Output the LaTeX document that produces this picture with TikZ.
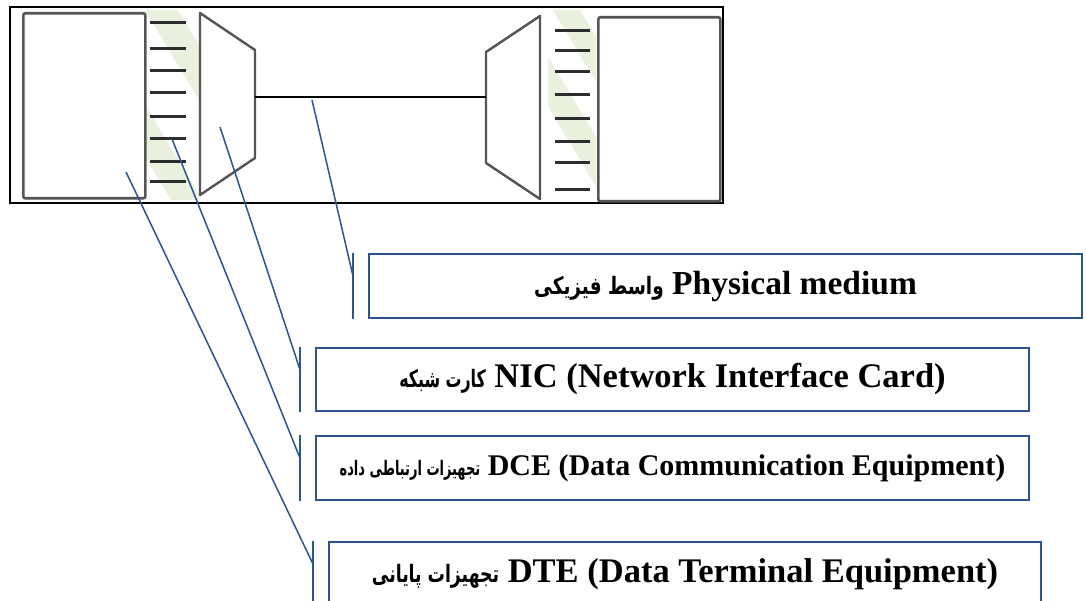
\documentclass[tikz,border=0pt]{standalone}
\usepackage{fontspec}
\usepackage{graphicx}
\setmainfont{Liberation Serif}
\newfontfamily\fa[Script=Arabic]{DejaVu Sans}
\TeXXeTstate=1
\usetikzlibrary{calc}
\definecolor{calblue}{RGB}{44,84,146}
\definecolor{figgray}{RGB}{85,85,85}
\definecolor{pingray}{RGB}{45,45,45}
\definecolor{wmgreen}{RGB}{234,241,222}
\tikzset{
  calbox/.style={draw=calblue, line width=2pt, anchor=north west, inner sep=0pt},
  calline/.style={draw=calblue, line width=1.5pt},
  calbar/.style={draw=calblue, line width=2pt},
  figbox/.style={draw=figgray, line width=2.6pt, rounded corners=2pt},
  pin/.style={draw=pingray, line width=3pt},
}
\begin{document}
\begin{tikzpicture}[x=1pt,y=-1pt]
\clip (0,0) rectangle (1086,601);
\fill[white] (0,0) rectangle (1086,601);
% watermark stripes in the gaps
\begin{scope}
\clip (146,10) rectangle (199,200);
\fill[wmgreen] (145,10) -- (178,10) -- (178+120,210) -- (145+120,210) -- cycle;
\fill[wmgreen] (57,10) -- (88,10) -- (88+120,210) -- (57+120,210) -- cycle;
\end{scope}
\begin{scope}
\clip (548,10) rectangle (596,200);
\fill[wmgreen] (553,10) -- (580,10) -- (580+120,210) -- (553+120,210) -- cycle;
\fill[wmgreen] (490,10) -- (520,10) -- (520+120,210) -- (490+120,210) -- cycle;
\end{scope}
% frame
\draw[line width=2pt] (10,7) rectangle (723,203);
% left terminal
\node[figbox, minimum width=122pt, minimum height=185pt, anchor=north west] (dteL) at (22,12) {};
\foreach \y in {23,49,71,93,117,139,162,182} \draw[pin] (150,\y) -- (186,\y);
\draw[figgray, line width=2.4pt, line join=round] (200,13) -- (255,50) -- (255,158) -- (200,195) -- cycle;
\coordinate (nicL) at (255,97);
% right terminal
\draw[figgray, line width=2.4pt, line join=round] (540,16) -- (486,52) -- (486,163) -- (540,199) -- cycle;
\coordinate (nicR) at (486,97);
\foreach \y in {31,51,72,95,119,142,163,190} \draw[pin] (555,\y) -- (590,\y);
\node[figbox, minimum width=122pt, minimum height=184pt, anchor=north west] (dteR) at (597,16) {};
% medium
\draw[line width=1.6pt] (nicL) -- (nicR);
% callout anchor points
\coordinate (pPhys) at (312,100);
\coordinate (pNic) at (220,127);
\coordinate (pDce) at (172,139);
\coordinate (pDte) at (126,172);
% callout boxes
\node[calbox, minimum width=713pt, minimum height=64pt] (phys) at (368,253)
  {\scalebox{0.77}[1]{\fa\fontsize{24}{24}\selectfont\bfseries\beginR واسط فیزیکی\endR}\fontsize{33.5}{36}\selectfont\bfseries\ Physical medium};
\node[calbox, minimum width=713pt, minimum height=63pt] (nic) at (315,347)
  {\scalebox{0.66}[1]{\fa\fontsize{24}{24}\selectfont\bfseries\beginR کارت شبکه\endR}\fontsize{34.5}{37}\selectfont\bfseries\ NIC (Network Interface Card)};
\node[calbox, minimum width=713pt, minimum height=64pt] (dce) at (315,435)
  {\scalebox{0.65}[1]{\fa\fontsize{20}{20}\selectfont\bfseries\beginR تجهیزات ارتباطی داده\endR}\fontsize{30}{33}\selectfont\bfseries\ DCE (Data Communication Equipment)};
\node[calbox, minimum width=712pt, minimum height=64pt] (dte) at (328,541)
  {\scalebox{0.72}[1]{\fa\fontsize{24}{24}\selectfont\bfseries\beginR تجهیزات پایانی\endR}\fontsize{34.5}{38}\selectfont\bfseries\ DTE (Data Terminal Equipment)};
% bars and leader lines
\foreach \b in {phys,nic,dce,dte}{
  \coordinate (\b T) at ([xshift=-15pt]\b.north west);
  \coordinate (\b B) at ([xshift=-15pt]\b.south west);
  \draw[calbar] (\b T) -- (\b B);
  \coordinate (\b M) at ($(\b T)!0.35!(\b B)$);
}
\draw[calline] (pPhys) -- (physM);
\draw[calline] (pNic) -- (nicM);
\draw[calline] (pDce) -- (dceM);
\draw[calline] (pDte) -- (dteM);
\end{tikzpicture}
\end{document}
